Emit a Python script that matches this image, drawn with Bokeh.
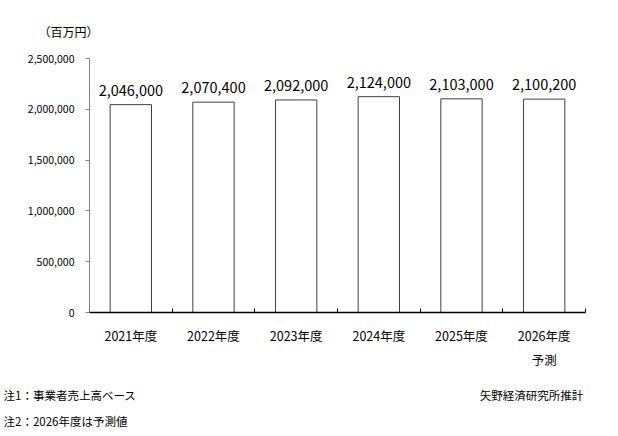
from bokeh.plotting import figure
from bokeh.models import (Range1d, FixedTicker, NumeralTickFormatter, ColumnDataSource,
                          Title, LinearAxis)
from bokeh.core.properties import value
from bokeh.embed import file_html
from bokeh.resources import INLINE

categories = ["2021年度", "2022年度", "2023年度", "2024年度", "2025年度", "2026年度\n予測"]
values = [2046000, 2070400, 2092000, 2124000, 2103000, 2100200]
y_ticks = [0, 500000, 1000000, 1500000, 2000000, 2500000]
unit_label = "（百万円）"
note1 = "注1：事業者売上高ベース"
note2 = "注2：2026年度は予測値"
source_note = "矢野経済研究所推計"

FONT = "Noto Sans CJK JP"
W, H = 610, 436
LEFT, RIGHT, TOP, BOTTOM = 89, 25, 58, 124

xs = [i + 0.5 for i in range(len(categories))]
labels = [f"{v:,}" for v in values]
src = ColumnDataSource(dict(x=xs, top=values, label=labels))

p = figure(width=W, height=H, output_backend="svg", toolbar_location=None,
           x_range=Range1d(0, len(categories)), y_range=Range1d(0, y_ticks[-1]),
           min_border_left=LEFT, min_border_right=RIGHT, min_border_top=TOP,
           min_border_bottom=BOTTOM)
p.outline_line_color = None
p.grid.visible = False
p.background_fill_color = "white"
p.border_fill_color = "white"

p.vbar(x="x", top="top", width=0.5, bottom=0, source=src,
       fill_color="white", line_color="#404040", line_width=1)
p.text(x="x", y="top", text="label", source=src, text_align="center",
       text_baseline="bottom", y_offset=-9, text_font=value(FONT),
       text_font_size="14.5px", text_color="#000000")

xa = p.xaxis[0]
xa.ticker = FixedTicker(ticks=xs, minor_ticks=list(range(len(categories) + 1)))
xa.major_label_overrides = {x: c for x, c in zip(xs, categories)}
xa.major_tick_in = 0
xa.major_tick_out = 0
xa.minor_tick_in = 4
xa.minor_tick_out = 0
xa.minor_tick_line_color = "#000000"
xa.axis_line_color = "#000000"
xa.axis_line_width = 1.5
xa.major_label_text_font = FONT
xa.major_label_text_font_size = "12.5px"
xa.major_label_text_color = "#000000"
xa.major_label_text_line_height = 1.28
xa.major_label_standoff = 13

ya = p.yaxis[0]
ya.ticker = FixedTicker(ticks=y_ticks)
ya.formatter = NumeralTickFormatter(format="0,0")
ya.minor_tick_line_color = None
ya.major_tick_in = 0
ya.major_tick_out = 4
ya.axis_line_color = "#808080"
ya.major_tick_line_color = "#808080"
ya.major_label_text_font = FONT
ya.major_label_text_font_size = "10.5px"
ya.major_label_text_color = "#000000"
ya.major_label_standoff = 11

# unit label above the plot, left of the frame
p.add_layout(Title(text=unit_label, align="left", offset=-51, standoff=38,
                   text_font=FONT, text_font_size="12px", text_font_style="normal",
                   text_color="#000000"), "above")

# source note: a label-only axis in canvas pixel units below the category axis
p.extra_x_ranges = {"notes": Range1d(LEFT, W - RIGHT)}
src_center = [531]
na = LinearAxis(x_range_name="notes",
                ticker=FixedTicker(ticks=src_center, minor_ticks=[]))
na.major_label_overrides = {src_center[0]: source_note}
na.axis_line_color = None
na.major_tick_line_color = None
na.minor_tick_line_color = None
na.major_tick_in = 0
na.major_tick_out = 0
na.major_label_standoff = 15
na.major_label_text_font = FONT
na.major_label_text_font_size = "11.5px"
na.major_label_text_color = "#000000"
na.major_label_text_line_height = 1.0
p.add_layout(na, "below")

# footnotes 1 and 2 as a left-aligned title, pulled up onto the source-note row
notes_title = Title(text=note1 + "\n" + note2, align="left", offset=-86,
                    vertical_align="top",
                    text_font=FONT, text_font_size="11.5px", text_font_style="normal",
                    text_color="#000000", text_line_height=1.6)
try:
    notes_title.standoff = -37
except Exception:
    notes_title.standoff = 0
p.add_layout(notes_title, "below")

open("out.html", "w").write(file_html(p, INLINE))
